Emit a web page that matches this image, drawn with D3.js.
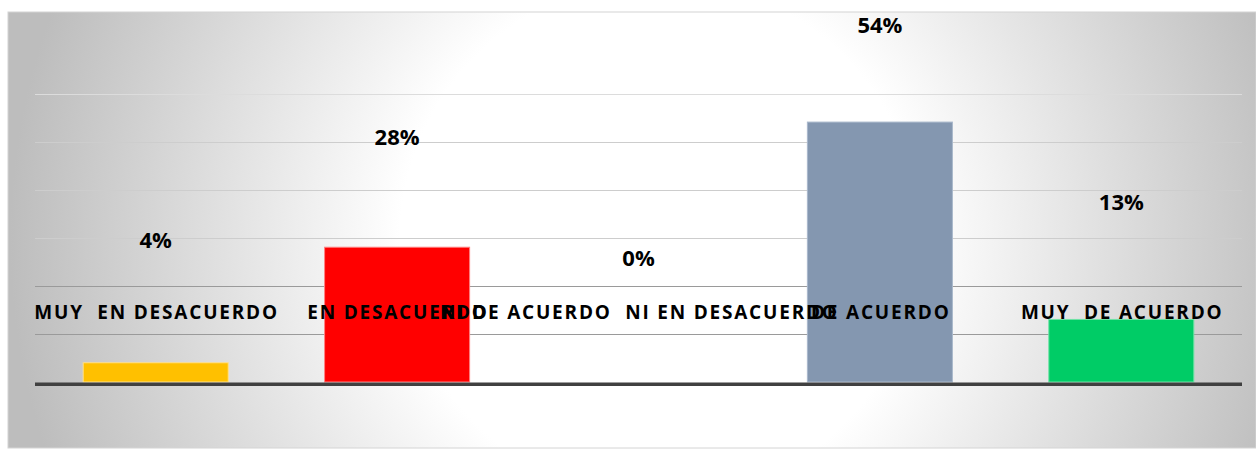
<!DOCTYPE html>
<html>
<head>
<meta charset="utf-8">
<script src="https://cdn.jsdelivr.net/npm/d3@7"></script>
<style>
  html, body { margin: 0; padding: 0; background: #ffffff; }
  svg { display: block; }
  text { white-space: pre; }
</style>
</head>
<body>
<svg id="chart" width="1256" height="449"></svg>
<script>
// ---- data ----
const categories = ["MUY  EN DESACUERDO", "EN DESACUERDO", "NI DE ACUERDO  NI EN DESACUERDO", "DE ACUERDO", "MUY  DE ACUERDO"];
const values = [4, 28, 0, 54, 13];
const valueLabels = ["4%", "28%", "0%", "54%", "13%"];
const gridTicks = [10, 20, 30, 40, 50, 60];

// ---- styles ----
const barFill = ["#FFC000", "#FF0000", "#8497B0", "#8497B0", "#00CC66"];
const barStroke = ["#FFE08C", "#FF8080", "#A9B8CC", "#A9B8CC", "#6FE3A6"];

const W = 1256, H = 449;
const svg = d3.select("#chart");

// background gradient (chart area)
const defs = svg.append("defs");
const grad = defs.append("radialGradient")
  .attr("id", "bg").attr("gradientUnits", "userSpaceOnUse")
  .attr("cx", 660).attr("cy", 240).attr("r", 650);
grad.append("stop").attr("offset", "0").attr("stop-color", "#ffffff");
grad.append("stop").attr("offset", "0.4").attr("stop-color", "#ffffff");
grad.append("stop").attr("offset", "1").attr("stop-color", "#bdbdbd");

svg.append("rect").attr("x", 8).attr("y", 12).attr("width", W - 8).attr("height", 436)
  .attr("fill", "url(#bg)").attr("stroke", "#d4d4d4").attr("stroke-width", 1);

// scales
const x = d3.scaleBand().domain(categories).range([35, 1242])
  .paddingInner(0.395).paddingOuter(0.1975);
const y = d3.scaleLinear().domain([0, 60]).range([382.5, 93.7]);
const yLabel = d3.scaleLinear().domain([0, 54]).range([265.5, 33]);

// gridlines
const gridColor = d3.scaleThreshold().domain([25, 55]).range(["#9a9a9a", "#cdcdcd", "#dcdcdc"]);
svg.append("g").selectAll("line").data(gridTicks).join("line")
  .attr("x1", 35).attr("x2", 1242)
  .attr("y1", d => Math.round(y(d)) + 0.5).attr("y2", d => Math.round(y(d)) + 0.5)
  .attr("stroke", d => gridColor(d)).attr("stroke-width", 1.2);

// bars
const data = categories.map((c, i) => ({ c, v: values[i], l: valueLabels[i], i }));
svg.append("g").selectAll("rect").data(data).join("rect")
  .attr("x", d => x(d.c) + 0.5)
  .attr("y", d => y(d.v) - 0.5)
  .attr("width", x.bandwidth() - 1)
  .attr("height", d => y(0) - y(d.v))
  .attr("fill", d => barFill[d.i])
  .attr("stroke", d => barStroke[d.i])
  .attr("stroke-width", 1);

// baseline axis
svg.append("line").attr("x1", 35).attr("x2", 1242)
  .attr("y1", y(0) + 1.7).attr("y2", y(0) + 1.7)
  .attr("stroke", "#404040").attr("stroke-width", 3.6);

// category labels
svg.append("g").selectAll("text").data(data).join("text")
  .attr("x", d => x(d.c) + x.bandwidth() / 2 + 0.9)
  .attr("y", 318.5)
  .attr("text-anchor", "middle")
  .attr("font-family", "'Open Sans', sans-serif")
  .attr("font-weight", 700)
  .attr("font-size", 19)
  .attr("letter-spacing", 1.8)
  .attr("fill", "#000")
  .text(d => d.c);

// value labels
svg.append("g").selectAll("text").data(data).join("text")
  .attr("x", d => x(d.c) + x.bandwidth() / 2)
  .attr("y", d => yLabel(d.v))
  .attr("text-anchor", "middle")
  .attr("font-family", "'Open Sans', sans-serif")
  .attr("font-weight", 700)
  .attr("font-size", 22)
  .attr("fill", "#000")
  .text(d => d.l);
</script>
</body>
</html>
